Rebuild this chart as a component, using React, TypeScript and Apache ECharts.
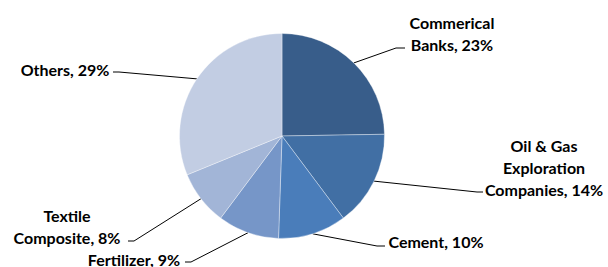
import React, { useEffect, useRef } from "react";
import * as echarts from "echarts";

const categories = [
  "Commerical\nBanks",
  "Oil & Gas\nExploration\nCompanies",
  "Cement",
  "Fertilizer",
  "Textile\nComposite",
  "Others",
];
const values = [23, 14, 10, 9, 8, 29];
const colors = ["#385D8A", "#416FA4", "#4A7DBA", "#7696C8", "#A2B5D7", "#C2CDE3"];

// label anchor (x, y, align) and line bend/end points per slice (layout only)
const labelPos: [number, number, string][] = [
  [452, 33, "center"],
  [544, 167, "center"],
  [436, 241, "center"],
  [134, 259, "center"],
  [67, 226, "center"],
  [65, 69, "center"],
];
const lineEnds: [number, number][][] = [
  [[396, 48], [405, 48]],
  [[477, 192], [483, 192]],
  [[377, 246], [385, 246]],
  [[191, 262], [185, 262]],
  [[134, 241], [128, 241]],
  [[119, 72], [113, 72]],
];

export default function App() {
  const ref = useRef<HTMLDivElement>(null);
  useEffect(() => {
    if (!ref.current) return;
    const chart = echarts.init(ref.current, null, { renderer: "svg" });
    chart.setOption({
      animation: false,
      backgroundColor: "#ffffff",
      series: [
        {
          type: "pie",
          center: [282, 136],
          radius: 102.5,
          startAngle: 90,
          clockwise: true,
          data: categories.map((c, i) => ({
            name: c,
            value: values[i],
            itemStyle: { color: colors[i] },
          })),
          itemStyle: { borderColor: "rgba(255,255,255,0.6)", borderWidth: 0.6 },
          label: {
            show: true,
            formatter: (p: any) => `${p.name}, ${p.value}%`,
            fontFamily: "Lato",
            fontWeight: "bold",
            fontSize: 16,
            lineHeight: 22,
            color: "#000000",
            align: "center",
          },
          labelLine: {
            show: true,
            lineStyle: { color: "#000000", width: 1 },
          },
          labelLayout: (params: any) => {
            const i = params.dataIndex;
            const pos = labelPos[i];
            const start = params.labelLinePoints ? params.labelLinePoints[0] : null;
            const res: any = {
              x: pos[0],
              y: pos[1],
              align: pos[2],
              verticalAlign: "middle",
            };
            if (start) {
              res.labelLinePoints = [start, lineEnds[i][0], lineEnds[i][1]];
            }
            return res;
          },
        },
      ],
    });
    return () => chart.dispose();
  }, []);
  return (
    <div
      ref={ref}
      style={{ position: "fixed", left: 0, top: 0, width: 608, height: 267 }}
    />
  );
}
